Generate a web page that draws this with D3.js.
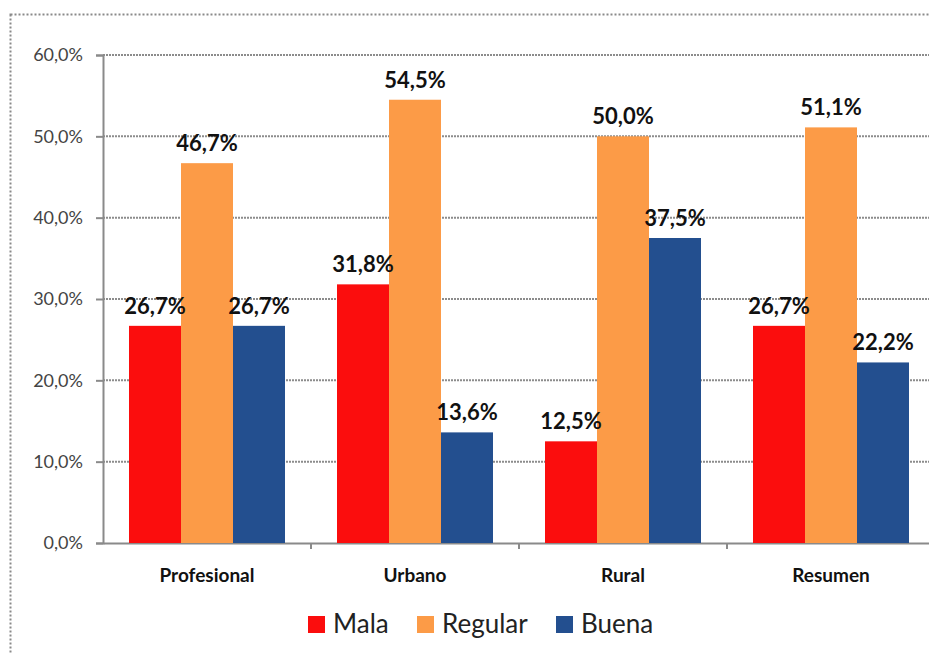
<!DOCTYPE html>
<html>
<head>
<meta charset="utf-8">
<script src="https://cdn.jsdelivr.net/npm/d3@7"></script>
<style>
  body { margin: 0; background: #fff; }
  svg { display: block; font-family: Lato, "Open Sans", sans-serif; }
</style>
</head>
<body>
<div id="chart"></div>
<script>
// Data
const categories = ["Profesional", "Urbano", "Rural", "Resumen"];
const seriesNames = ["Mala", "Regular", "Buena"];
const mala = [26.7, 31.8, 12.5, 26.7];
const regular = [46.7, 54.5, 50.0, 51.1];
const buena = [26.7, 13.6, 37.5, 22.2];
const yTicks = [0, 10, 20, 30, 40, 50, 60];

const seriesValues = {Mala: mala, Regular: regular, Buena: buena};
const colors = {Mala: "#fb0d0d", Regular: "#fc9b47", Buena: "#234f8f"};

const W = 929, H = 654;
const plot = {left: 103, right: 935, top: 55, bottom: 543};

const svg = d3.select("#chart")
    .append("svg")
    .attr("width", W)
    .attr("height", H);

// Outer dotted frame
svg.append("rect")
    .attr("x", 10.5).attr("y", 14.5)
    .attr("width", W + 20).attr("height", H + 20)
    .attr("fill", "none")
    .attr("stroke", "#8a8a8a")
    .attr("stroke-width", 2)
    .attr("stroke-dasharray", "2,2");

// Scales
const x0 = d3.scaleBand()
    .domain(categories)
    .range([plot.left, plot.right])
    .paddingInner(0);

const x1 = d3.scaleBand()
    .domain(seriesNames)
    .range([0, x0.bandwidth()])
    .paddingInner(0)
    .paddingOuter(0.5);

const y = d3.scaleLinear()
    .domain([0, 60])
    .range([plot.bottom, plot.top]);

const fmt = v => d3.format(".1f")(v).replace(".", ",") + "%";

// Gridlines
svg.append("g")
    .selectAll("line")
    .data(yTicks.filter(d => d > 0))
    .enter()
    .append("line")
    .attr("x1", plot.left).attr("x2", W)
    .attr("y1", d => y(d)).attr("y2", d => y(d))
    .attr("stroke", "#8c8c8c")
    .attr("stroke-width", 2)
    .attr("stroke-dasharray", "2,1");

// Y axis
const yAxis = svg.append("g")
    .attr("transform", `translate(${plot.left},0)`)
    .call(d3.axisLeft(y).tickValues(yTicks).tickFormat(fmt).tickSize(7).tickPadding(13));
yAxis.attr("font-family", null);
yAxis.select(".domain").attr("stroke", "#8a8a8a").attr("stroke-width", 2);
yAxis.selectAll(".tick line").attr("stroke", "#8a8a8a").attr("stroke-width", 2);
yAxis.selectAll("text")
    .attr("fill", "#444")
    .style("font-size", "18px");

// X axis
const xAxis = svg.append("g")
    .attr("transform", `translate(0,${plot.bottom})`)
    .call(d3.axisBottom(x0).tickSize(0).tickPadding(26));
xAxis.attr("font-family", null);
xAxis.select(".domain").attr("stroke", "#8a8a8a").attr("stroke-width", 2);
xAxis.selectAll("text")
    .attr("fill", "#111")
    .style("font-size", "19px")
    .style("font-weight", "bold");
// category boundary ticks
svg.append("g")
    .selectAll("line")
    .data(categories.slice(1))
    .enter()
    .append("line")
    .attr("x1", d => x0(d)).attr("x2", d => x0(d))
    .attr("y1", plot.bottom).attr("y2", plot.bottom + 6)
    .attr("stroke", "#8a8a8a")
    .attr("stroke-width", 2);

// Bars
const groups = svg.selectAll(".bar-group")
    .data(categories)
    .enter()
    .append("g")
    .attr("class", "bar-group")
    .attr("transform", d => `translate(${x0(d)},0)`);

const barData = (cat, i) => seriesNames.map(s => ({series: s, value: seriesValues[s][i]}));

groups.selectAll("rect")
    .data(barData)
    .enter()
    .append("rect")
    .attr("x", d => x1(d.series))
    .attr("y", d => y(d.value))
    .attr("width", x1.bandwidth())
    .attr("height", d => plot.bottom - y(d.value))
    .attr("fill", d => colors[d.series]);

// Value labels
groups.selectAll(".label")
    .data(barData)
    .enter()
    .append("text")
    .attr("class", "label")
    .attr("x", d => x1(d.series) + x1.bandwidth() / 2)
    .attr("y", d => y(d.value) - 12)
    .attr("text-anchor", "middle")
    .attr("fill", "#111")
    .style("font-size", "22px")
    .style("font-weight", "bold")
    .text(d => fmt(d.value));

// Legend
const legendX = [308, 417, 556];
const legend = svg.selectAll(".legend-item")
    .data(seriesNames)
    .enter()
    .append("g")
    .attr("class", "legend-item")
    .attr("transform", (d, i) => `translate(${legendX[i]},616)`);

legend.append("rect")
    .attr("width", 17).attr("height", 17)
    .attr("fill", d => colors[d]);

legend.append("text")
    .attr("x", 25)
    .attr("y", 17)
    .attr("fill", "#222")
    .style("font-size", "26px")
    .text(d => d);
</script>
</body>
</html>
